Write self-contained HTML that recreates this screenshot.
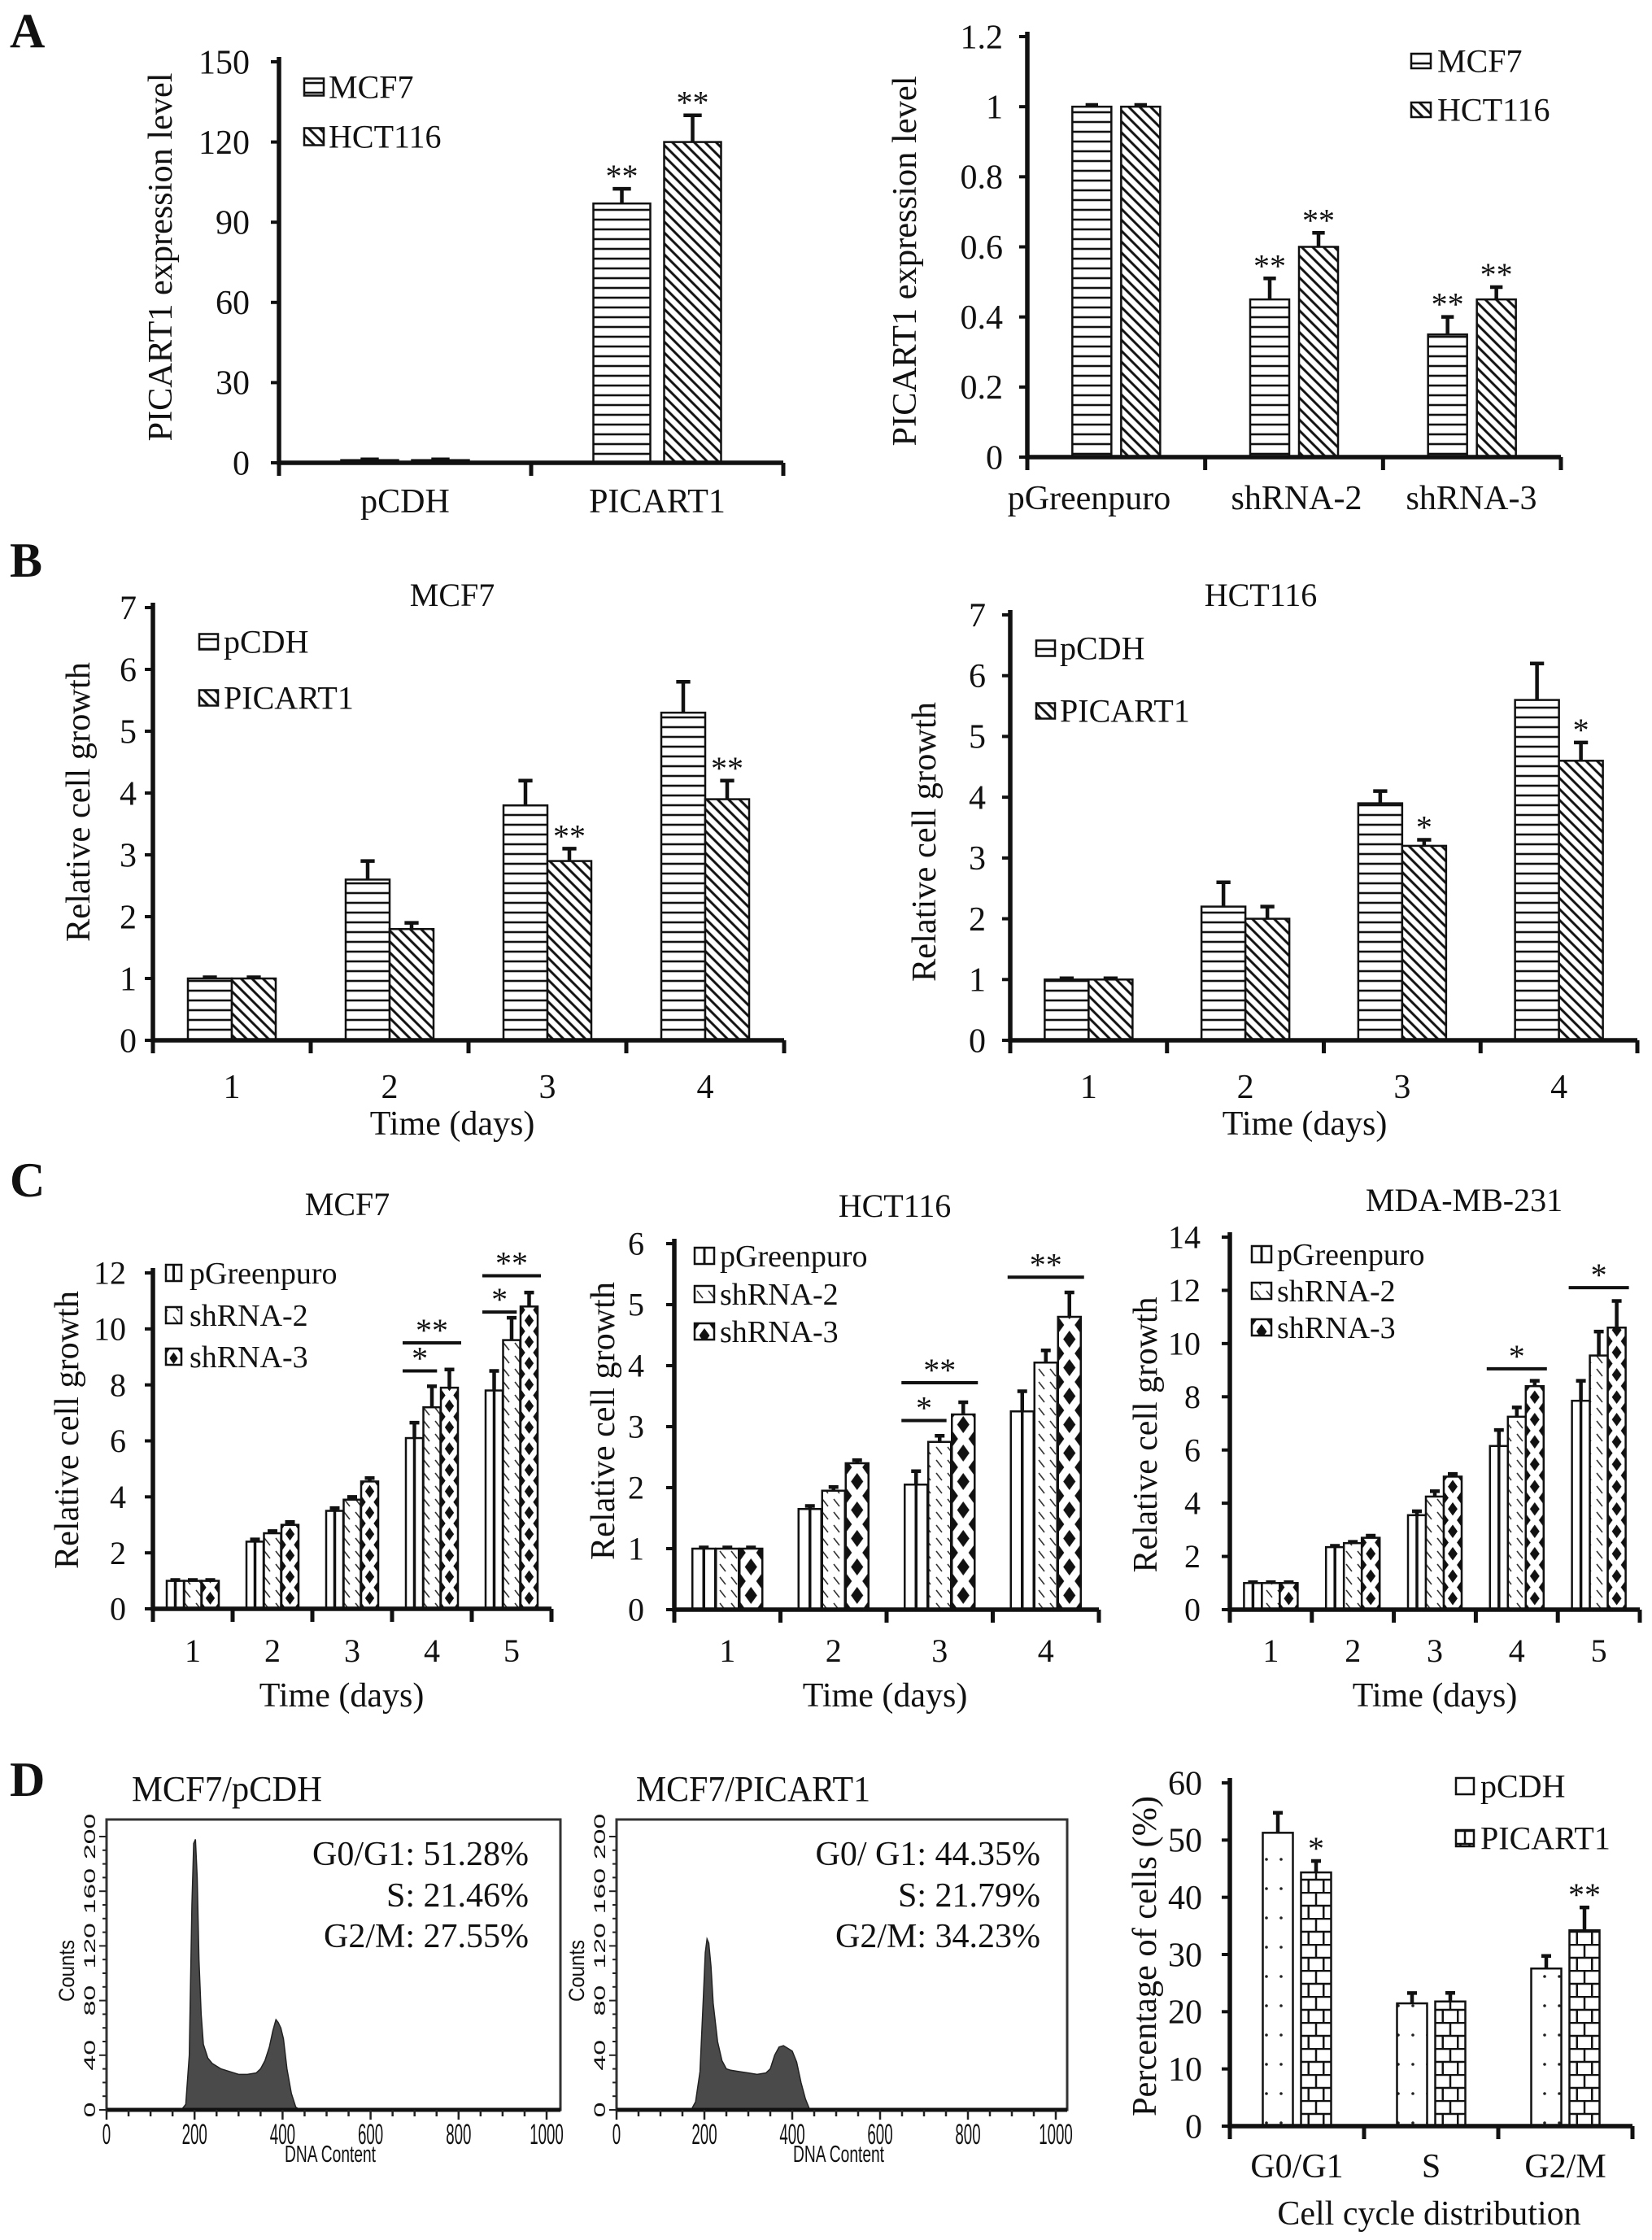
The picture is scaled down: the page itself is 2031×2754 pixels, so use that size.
<!DOCTYPE html>
<html><head><meta charset="utf-8"><title>PICART1 figure</title>
<style>html,body{margin:0;padding:0;background:#fff}svg{display:block}text{font-family:"Liberation Serif","Times New Roman",Times,serif;fill:#111}</style>
</head><body>
<svg id="fig" xmlns="http://www.w3.org/2000/svg" width="2031" height="2754" viewBox="0 0 2031 2754" font-family="Liberation Serif, serif">
<defs>
<pattern id="hlines" patternUnits="userSpaceOnUse" width="10" height="12"><rect width="10" height="12" fill="#fff"/><line x1="0" y1="6" x2="10" y2="6" stroke="#111" stroke-width="2.6"/></pattern>
<pattern id="diag" patternUnits="userSpaceOnUse" width="9.5" height="9.5" patternTransform="rotate(-45)"><rect width="9.5" height="9.5" fill="#fff"/><line x1="4.75" y1="0" x2="4.75" y2="9.5" stroke="#111" stroke-width="3"/></pattern>
<pattern id="sh2pat" patternUnits="userSpaceOnUse" width="14" height="16"><rect width="14" height="16" fill="#fff"/><line x1="3" y1="3" x2="10" y2="12" stroke="#333" stroke-width="1.6"/></pattern>
<pattern id="dots" patternUnits="userSpaceOnUse" width="18" height="36"><rect width="18" height="36" fill="#fff"/><circle cx="9" cy="18" r="1.8" fill="#222"/></pattern>
</defs>
<g id="root"></g>
</svg>
<script>
// ---------- data ----------
const aCats=['pCDH','PICART1'];
const aMcf7=[1,97];
const aHct=[1,120];
const aMcf7Err=[0.3,5.5];
const aHctErr=[0.3,10];
const aMcf7Star=['','**'];
const aHctStar=['','**'];
const aTicks=[0,30,60,90,120,150];

const a2Cats=['pGreenpuro','shRNA-2','shRNA-3'];
const a2Mcf7=[1,0.45,0.35];
const a2Hct=[1,0.6,0.45];
const a2Mcf7Err=[0.005,0.06,0.05];
const a2HctErr=[0.005,0.04,0.035];
const a2Mcf7Star=['','**','**'];
const a2HctStar=['','**','**'];
const a2Ticks=[0,0.2,0.4,0.6,0.8,1,1.2];

const bDays=['1','2','3','4'];
const bTicks=[0,1,2,3,4,5,6,7];
const b1pCDH=[1,2.6,3.8,5.3];
const b1pCDHErr=[0.02,0.3,0.4,0.5];
const b1PIC=[1,1.8,2.9,3.9];
const b1PICErr=[0.02,0.1,0.2,0.3];
const b1PICStar=['','','**','**'];
const b2pCDH=[1,2.2,3.9,5.6];
const b2pCDHErr=[0.02,0.4,0.2,0.6];
const b2PIC=[1,2.0,3.2,4.6];
const b2PICErr=[0.02,0.2,0.1,0.3];
const b2PICStar=['','','*','*'];

const c1Days=['1','2','3','4','5'];
const c1Ticks=[0,2,4,6,8,10,12];
const c1pG=[1,2.4,3.5,6.1,7.8];
const c1pGErr=[0.03,0.08,0.1,0.55,0.7];
const c1sh2=[1,2.7,3.9,7.2,9.6];
const c1sh2Err=[0.03,0.08,0.1,0.75,0.8];
const c1sh3=[1,3.0,4.55,7.9,10.8];
const c1sh3Err=[0.03,0.1,0.12,0.65,0.5];
const c1SigDay=[4,4,5,5];
const c1SigY=[8.5,9.5,10.6,11.9];
const c1SigLab=['*','**','*','**'];
const c1SigTo=[1,2,1,2];

const c2Days=['1','2','3','4'];
const c2Ticks=[0,1,2,3,4,5,6];
const c2pG=[1,1.65,2.05,3.25];
const c2pGErr=[0.02,0.05,0.22,0.33];
const c2sh2=[1,1.95,2.75,4.05];
const c2sh2Err=[0.02,0.06,0.1,0.2];
const c2sh3=[1,2.4,3.2,4.8];
const c2sh3Err=[0.02,0.05,0.2,0.4];
const c2SigDay=[3,3,4];
const c2SigY=[3.1,3.72,5.45];
const c2SigLab=['*','**','**'];
const c2SigTo=[1,2,2];

const c3Days=['1','2','3','4','5'];
const c3Ticks=[0,2,4,6,8,10,12,14];
const c3pG=[1,2.35,3.55,6.15,7.85];
const c3pGErr=[0.03,0.05,0.15,0.6,0.75];
const c3sh2=[1,2.5,4.25,7.25,9.55];
const c3sh2Err=[0.03,0.05,0.2,0.35,0.9];
const c3sh3=[1,2.7,5.0,8.4,10.6];
const c3sh3Err=[0.03,0.08,0.1,0.2,1.0];
const c3SigDay=[4,5];
const c3SigY=[9.05,12.1];
const c3SigLab=['*','*'];
const c3SigTo=[2,2];

const dCats=['G0/G1','S','G2/M'];
const dTicks=[0,10,20,30,40,50,60];
const dpCDH=[51.28,21.46,27.55];
const dpCDHErr=[3.5,1.8,2.2];
const dPIC=[44.35,21.79,34.23];
const dPICErr=[2,1.5,4];
const dPICStar=['*','','**'];

const hist1X=[170,180,188,194,198,202,206,210,215,220,230,240,250,260,280,300,320,340,350,360,370,378,385,390,396,402,410,420,430,440];
const hist1Y=[0,4,40,150,195,198,170,110,70,48,38,34,32,30,28,26,26,27,30,36,46,58,66,64,60,52,30,12,2,0];
const hist2X=[170,180,190,198,202,206,210,215,220,230,240,250,260,280,300,320,340,350,360,370,380,390,400,410,420,430,440];
const hist2Y=[0,6,28,85,115,125,122,105,78,50,36,30,29,28,27,26,27,30,40,46,47,45,43,35,20,8,0];
const histTicksX=[0,200,400,600,800,1000];
const histTicksY=[0,40,80,120,160,200];

// ---------- helpers ----------
const NS='http://www.w3.org/2000/svg';
const root=document.getElementById('root');
function mk(tag,attrs,parent){const e=document.createElementNS(NS,tag);for(const k in attrs)e.setAttribute(k,attrs[k]);(parent||root).appendChild(e);return e;}
function txt(s,attrs,parent){const e=mk('text',attrs,parent);e.textContent=s;return e;}
let pid=0;

function fillFor(kind,x,w,y0,g){
  if(kind==='h')return 'url(#hlines)';
  if(kind==='d')return 'url(#diag)';
  if(kind==='sh2')return 'url(#sh2pat)';
  if(kind==='dots')return 'url(#dots)';
  if(kind==='pg')return '#fff';
  const id='p'+(pid++);
  const defs=document.querySelector('defs');
  if(kind==='sh3'){
    const ph=w*1.25;
    const p=mk('pattern',{id:id,patternUnits:'userSpaceOnUse',x:x,y:y0,width:w,height:ph},defs);
    mk('rect',{width:w,height:ph,fill:'#fff'},p);
    const hw=w*0.27,hh=ph*0.3;
    mk('polygon',{points:`${w/2},${ph/2-hh} ${w/2+hw},${ph/2} ${w/2},${ph/2+hh} ${w/2-hw},${ph/2}`,fill:'#111'},p);
    [[0,0],[w,0],[0,ph],[w,ph]].forEach(c=>mk('polygon',{points:`${c[0]},${c[1]-hh} ${c[0]+hw},${c[1]} ${c[0]},${c[1]+hh} ${c[0]-hw},${c[1]}`,fill:'#111'},p));
  } else if(kind==='brick'){
    const rh=16;
    const p=mk('pattern',{id:id,patternUnits:'userSpaceOnUse',x:x,y:y0,width:w,height:rh*2},defs);
    mk('rect',{width:w,height:rh*2,fill:'#fff'},p);
    mk('line',{x1:0,y1:1,x2:w,y2:1,stroke:'#111','stroke-width':2.5},p);
    mk('line',{x1:0,y1:rh+1,x2:w,y2:rh+1,stroke:'#111','stroke-width':2.5},p);
    mk('line',{x1:w/2,y1:1,x2:w/2,y2:rh+1,stroke:'#111','stroke-width':2.5},p);
    mk('line',{x1:w/4,y1:rh+1,x2:w/4,y2:2*rh,stroke:'#111','stroke-width':2.5},p);
    mk('line',{x1:3*w/4,y1:rh+1,x2:3*w/4,y2:2*rh,stroke:'#111','stroke-width':2.5},p);
  }
  return 'url(#'+id+')';
}

function chart(c){
  const g=mk('g',{});
  
  
  const n=c.cats.length, band=(c.xR-c.xL)/n;
  const ys=v=>c.y0-(v/c.yMax)*(c.y0-c.yTop);
  const xc=i=>c.xL+band*(i+0.5);
  c.series.forEach((s,si)=>{
    s.vals.forEach((v,i)=>{
      const x=xc(i)+c.off[si]-c.bw/2, y=ys(v);
      const r=mk('rect',{x:x,y:y,width:c.bw,height:c.y0-y,fill:fillFor(s.fill,x,c.bw,c.y0,g),stroke:'#111','stroke-width':2.5},g);
      
      
      if(s.fill==='pg'){mk('line',{x1:x+c.bw/2,y1:y,x2:x+c.bw/2,y2:c.y0,stroke:'#111','stroke-width':3.5},g);}
      const et=ys(v+s.err[i]);
      const cx=x+c.bw/2, cw=Math.max(12,c.bw*0.32);
      const eb=mk('path',{d:`M${cx},${y} V${et} M${cx-cw/2},${et} H${cx+cw/2}`,stroke:'#111','stroke-width':4.5,fill:'none'},g);
      
      
      if(s.stars&&s.stars[i]){
        const st=txt(s.stars[i],{x:cx,y:et-2,'text-anchor':'middle','font-size':40},g);
        
        
      }
    });
  });
  if(c.sig){
    c.sig.day.forEach((d,k)=>{
      const i=d-1, y=ys(c.sig.y[k]);
      const x1=xc(i)+c.off[0]-c.bw/2-4;
      const x2=c.sig.to[k]===2?xc(i)+c.off[2]+c.bw/2+4:xc(i)+c.off[1]+c.bw*0.3;
      const ln=mk('line',{x1:x1,y1:y,x2:x2,y2:y,stroke:'#111','stroke-width':4},g);
      
      
      const st=txt(c.sig.lab[k],{x:(x1+x2)/2,y:y-2,'text-anchor':'middle','font-size':40},g);
      
      
    });
  }
  const ax=mk('path',{d:`M${c.xL},${c.yTop-6} V${c.y0} H${c.xR}`,stroke:'#111','stroke-width':5.5,fill:'none'},g);
  
  
  for(let i=0;i<=n;i++){mk('line',{x1:c.xL+band*i,y1:c.y0,x2:c.xL+band*i,y2:c.y0+16,stroke:'#111','stroke-width':5},g);}
  c.ticks.forEach(t=>{
    const y=ys(t);
    mk('line',{x1:c.xL-10,y1:y,x2:c.xL,y2:y,stroke:'#111','stroke-width':4},g);
    const tl=txt(String(t),{x:c.xL-c.lg,y:y+c.tf*0.34,'text-anchor':'end','font-size':c.tf},g);
    
    
  });
  c.cats.forEach((cat,i)=>{
    const lx=c.catX?c.catX[i]:xc(i);
    const cl=txt(cat,{x:lx,y:c.catY,'text-anchor':'middle','font-size':c.tf},g);
    
    
  });
  const yt=txt(c.yTitle,{x:0,y:0,'text-anchor':'middle','font-size':42,textLength:c.ytLen,lengthAdjust:'spacingAndGlyphs',transform:`translate(${c.ytX},${c.ytY}) rotate(-90)`},g);
  
  
  if(c.xTitle){
    const xt=txt(c.xTitle[0],{x:c.xTitle[1],y:c.xTitle[2],'text-anchor':'middle','font-size':42},g);
    
    
  }
  if(c.title){
    const tt=txt(c.title[0],{x:c.title[1],y:c.title[2],'text-anchor':'middle','font-size':40},g);
    
    
  }
  c.legend.items.forEach((it,k)=>{
    const L=c.legend, cy=L.y[k];
    const lg=mk('g',{},g);
    
    
    const sx=L.x, sw=L.w, sh=L.h;
    mk('rect',{x:sx,y:cy-sh/2,width:sw,height:sh,fill:fillFor(it[0],sx,sw,cy-sh/2,lg),stroke:'#111','stroke-width':2.5},lg);
    if(it[0]==='pg')mk('line',{x1:sx+sw/2,y1:cy-sh/2,x2:sx+sw/2,y2:cy+sh/2,stroke:'#111','stroke-width':3},lg);
    txt(it[1],{x:L.tx,y:cy+L.fs*0.34,'font-size':L.fs},lg);
  });
}

[['A',58],['B',709],['C',1471],['D',2208]].forEach(p=>{
  const t=txt(p[0],{x:12,y:p[1],'font-size':60,'font-weight':'bold'});
  
  
});

chart({name:'chart-a-overexpression',cats:aCats,xL:343,xR:963,y0:569,yTop:76,yMax:150,ticks:aTicks,bw:70,off:[-43.5,43.5],tf:42,lg:36,catY:630,
  series:[{key:'mcf7',vals:aMcf7,err:aMcf7Err,fill:'h',stars:aMcf7Star},{key:'hct116',vals:aHct,err:aHctErr,fill:'d',stars:aHctStar}],
  yTitle:'PICART1 expression level',ytX:211,ytY:316,ytLen:453,
  legend:{x:374,w:24,h:21,tx:404,fs:40,y:[107,168],items:[['h','MCF7'],['d','HCT116']]}});
chart({name:'chart-a-knockdown',cats:a2Cats,catX:[1339,1594,1809],xL:1263,xR:1919,y0:562,yTop:45,yMax:1.2,ticks:a2Ticks,bw:48,off:[-30,30],tf:42,lg:30,catY:626,
  series:[{key:'mcf7',vals:a2Mcf7,err:a2Mcf7Err,fill:'h',stars:a2Mcf7Star},{key:'hct116',vals:a2Hct,err:a2HctErr,fill:'d',stars:a2HctStar}],
  yTitle:'PICART1 expression level',ytX:1126,ytY:321,ytLen:455,
  legend:{x:1735,w:24,h:18,tx:1767,fs:40,y:[75,135],items:[['h','MCF7'],['d','HCT116']]}});

chart({name:'chart-b-mcf7',cats:bDays,xL:188,xR:964,y0:1279,yTop:747,yMax:7,ticks:bTicks,bw:54,off:[-27,27],tf:42,lg:20,catY:1350,
  series:[{key:'pcdh',vals:b1pCDH,err:b1pCDHErr,fill:'h'},{key:'picart1',vals:b1PIC,err:b1PICErr,fill:'d',stars:b1PICStar}],
  yTitle:'Relative cell growth',ytX:110,ytY:986,ytLen:344,xTitle:['Time (days)',556,1395],title:['MCF7',556,745],
  legend:{x:245,w:23,h:19,tx:275,fs:40,y:[789,858],items:[['h','pCDH'],['d','PICART1']]}});
chart({name:'chart-b-hct116',cats:bDays,xL:1242,xR:2013,y0:1279,yTop:756,yMax:7,ticks:bTicks,bw:54,off:[-27,27],tf:42,lg:30,catY:1350,
  series:[{key:'pcdh',vals:b2pCDH,err:b2pCDHErr,fill:'h'},{key:'picart1',vals:b2PIC,err:b2PICErr,fill:'d',stars:b2PICStar}],
  yTitle:'Relative cell growth',ytX:1150,ytY:1035,ytLen:344,xTitle:['Time (days)',1604,1395],title:['HCT116',1550,745],
  legend:{x:1274,w:23,h:19,tx:1303,fs:40,y:[797,874],items:[['h','pCDH'],['d','PICART1']]}});

const cLeg=[['pg','pGreenpuro'],['sh2','shRNA-2'],['sh3','shRNA-3']];
chart({name:'chart-c-mcf7',cats:c1Days,xL:188,xR:678,y0:1978,yTop:1565,yMax:12,ticks:c1Ticks,bw:21,off:[-21.5,0,21.5],tf:40,lg:33,catY:2043,
  series:[{key:'pgreenpuro',vals:c1pG,err:c1pGErr,fill:'pg'},{key:'shrna-2',vals:c1sh2,err:c1sh2Err,fill:'sh2'},{key:'shrna-3',vals:c1sh3,err:c1sh3Err,fill:'sh3'}],
  sig:{day:c1SigDay,y:c1SigY,lab:c1SigLab,to:c1SigTo},
  yTitle:'Relative cell growth',ytX:96,ytY:1758,ytLen:342,xTitle:['Time (days)',420,2098],title:['MCF7',427,1494],
  legend:{x:204,w:19,h:20,tx:233,fs:38,y:[1565,1617,1668],items:cLeg}});
chart({name:'chart-c-hct116',cats:c2Days,xL:829,xR:1351,y0:1979,yTop:1529,yMax:6,ticks:c2Ticks,bw:28,off:[-29,0,29],tf:40,lg:37,catY:2043,
  series:[{key:'pgreenpuro',vals:c2pG,err:c2pGErr,fill:'pg'},{key:'shrna-2',vals:c2sh2,err:c2sh2Err,fill:'sh2'},{key:'shrna-3',vals:c2sh3,err:c2sh3Err,fill:'sh3'}],
  sig:{day:c2SigDay,y:c2SigY,lab:c2SigLab,to:c2SigTo},
  yTitle:'Relative cell growth',ytX:755,ytY:1747,ytLen:342,xTitle:['Time (days)',1088,2098],title:['HCT116',1100,1496],
  legend:{x:854,w:24,h:20,tx:885,fs:38,y:[1544,1591,1637],items:cLeg}});
chart({name:'chart-c-mda-mb-231',cats:c3Days,xL:1512,xR:2016,y0:1979,yTop:1521,yMax:14,ticks:c3Ticks,bw:22,off:[-22,0,22],tf:40,lg:36,catY:2043,
  series:[{key:'pgreenpuro',vals:c3pG,err:c3pGErr,fill:'pg'},{key:'shrna-2',vals:c3sh2,err:c3sh2Err,fill:'sh2'},{key:'shrna-3',vals:c3sh3,err:c3sh3Err,fill:'sh3'}],
  sig:{day:c3SigDay,y:c3SigY,lab:c3SigLab,to:c3SigTo},
  yTitle:'Relative cell growth',ytX:1422,ytY:1764,ytLen:339,xTitle:['Time (days)',1764,2098],title:['MDA-MB-231',1800,1489],
  legend:{x:1539,w:24,h:20,tx:1570,fs:38,y:[1542,1587,1632],items:cLeg}});

chart({name:'chart-d-cell-cycle',cats:dCats,xL:1512,xR:2007,y0:2614,yTop:2192,yMax:60,ticks:dTicks,bw:37,off:[-23.5,23.5],tf:42,lg:34,catY:2677,
  series:[{key:'pcdh',vals:dpCDH,err:dpCDHErr,fill:'dots'},{key:'picart1',vals:dPIC,err:dPICErr,fill:'brick',stars:dPICStar}],
  yTitle:'Percentage of cells (%)',ytX:1421,ytY:2405,ytLen:394,xTitle:['Cell cycle distribution',1757,2735],
  legend:{x:1790,w:22,h:20,tx:1820,fs:40,y:[2196,2260],items:[['dots','pCDH'],['brick','PICART1']]}});

function hist(h){
  const g=mk('g',{});
  
  
  const xs=v=>h.x0+(v/1000)*(h.x1000-h.x0);
  const ys=v=>h.y0-(v/200)*(h.y0-h.y200);
  let pts=h.xs.map((v,i)=>xs(v)+','+ys(h.ys[i])).join(' ');
  pts=xs(h.xs[0])+','+h.y0+' '+pts+' '+xs(h.xs[h.xs.length-1])+','+h.y0;
  const poly=mk('polygon',{points:pts,fill:'#4a4a4a',stroke:'#222','stroke-width':1.5},g);
  
  
  const box=mk('rect',{x:h.x0,y:h.top,width:h.right-h.x0,height:h.y0-h.top,fill:'none',stroke:'#333','stroke-width':3},g);
  
  
  mk('line',{x1:h.x0,y1:h.y0,x2:h.right,y2:h.y0,stroke:'#111','stroke-width':5},g);
  for(let v=0;v<=1000;v+=50){mk('line',{x1:xs(v),y1:h.y0,x2:xs(v),y2:h.y0+(v%200===0?12:8),stroke:'#222','stroke-width':2.5},g);}
  for(let v=0;v<=200;v+=10){mk('line',{x1:h.x0-(v%40===0?9:5),y1:ys(v),x2:h.x0,y2:ys(v),stroke:'#222','stroke-width':2},g);}
  histTicksX.forEach(v=>{const t=txt(String(v),{x:0,y:0,'text-anchor':'middle','font-size':26,style:'font-family:"Liberation Sans",sans-serif',transform:`translate(${xs(v)},${h.y0+42}) scale(0.72,1.35)`},g);
    
    });
  histTicksY.forEach(v=>{const t=txt(String(v),{x:0,y:0,'text-anchor':'middle','font-size':26,style:'font-family:"Liberation Sans",sans-serif',transform:`translate(${h.x0-14},${ys(v)}) rotate(-90) scale(1.3,0.75)`},g);
    
    });
  const xt=txt('DNA Content',{x:0,y:0,'text-anchor':'middle','font-size':24,style:'font-family:"Liberation Sans",sans-serif',transform:`translate(${h.dnaX},${h.y0+64}) scale(0.8,1.2)`},g);
  
  
  const yt=txt('Counts',{x:0,y:0,'text-anchor':'middle','font-size':24,style:'font-family:"Liberation Sans",sans-serif',transform:`translate(${h.x0-40},2423) rotate(-90) scale(1,1.1)`},g);
  
  
  const tt=txt(h.title,{x:h.titleX,y:2214,'font-size':44,textLength:h.titleLen,lengthAdjust:'spacingAndGlyphs'},g);
  
  
  h.stats.forEach((s,k)=>{const t=txt(s,{x:h.statX,y:[2293,2344,2394][k],'text-anchor':'end','font-size':42},g);
    
    });
}
hist({name:'histogram-mcf7-pcdh',x0:131,x1000:672,right:689,y0:2594,y200:2258,top:2237,xs:hist1X,ys:hist1Y,dnaX:406,title:'MCF7/pCDH',titleX:162,titleLen:234,statX:650,
  stats:['G0/G1: 51.28%','S: 21.46%','G2/M: 27.55%']});
hist({name:'histogram-mcf7-picart1',x0:758,x1000:1298,right:1312,y0:2594,y200:2258,top:2237,xs:hist2X,ys:hist2Y,dnaX:1031,title:'MCF7/PICART1',titleX:782,titleLen:288,statX:1279,
  stats:['G0/ G1:  44.35%','S:  21.79%','G2/M:  34.23%']});
</script>
</body></html>
